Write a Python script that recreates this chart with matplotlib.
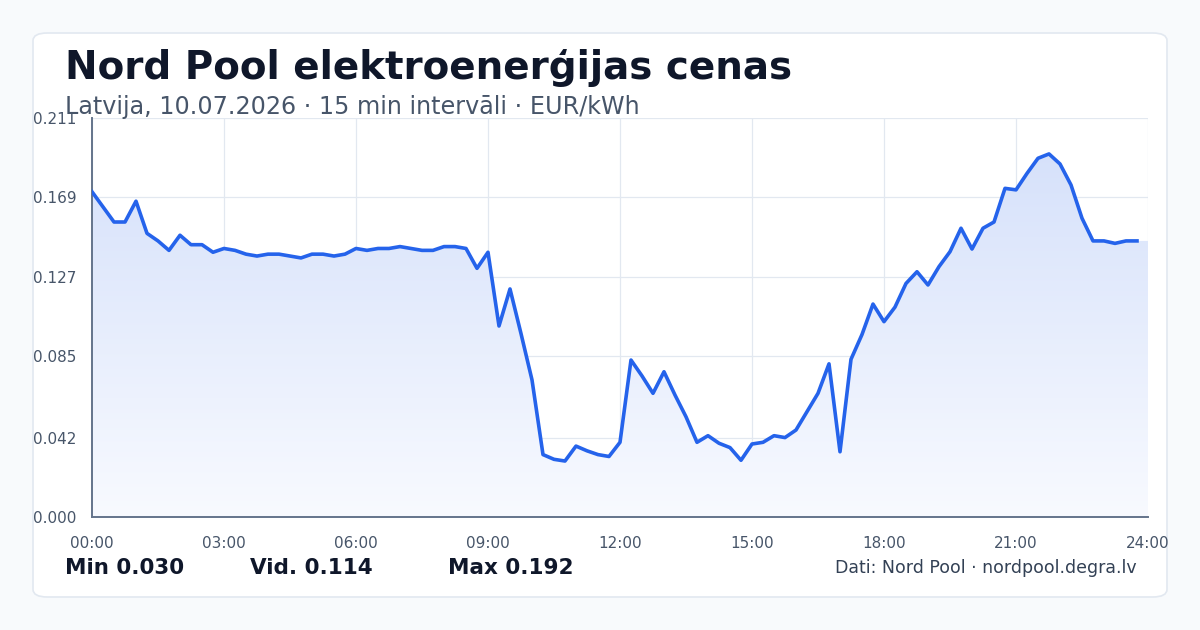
import matplotlib
matplotlib.use("Agg")
import matplotlib.pyplot as plt
import numpy as np
from matplotlib.patches import FancyBboxPatch, Polygon
from matplotlib.colors import LinearSegmentedColormap

prices = [0.172,0.164,0.156,0.156,0.167,0.150,0.146,0.141,0.149,0.144,0.144,0.140,
          0.142,0.141,0.139,0.138,0.139,0.139,0.138,0.137,0.139,0.139,0.138,0.139,
          0.142,0.141,0.142,0.142,0.143,0.142,0.141,0.141,0.143,0.143,0.142,0.1315,
          0.140,0.101,0.1206,0.097,0.0725,0.033,0.0305,0.0296,0.0375,0.035,0.033,0.032,
          0.0395,0.083,0.0746,0.0654,0.0768,0.0645,0.053,0.0395,0.043,0.039,0.0367,0.030,
          0.0386,0.0395,0.043,0.042,0.046,0.0557,0.0654,0.081,0.0345,0.0834,0.0965,0.1126,
          0.1033,0.111,0.1235,0.1297,0.1227,0.1324,0.1403,0.1527,0.1417,0.1527,0.156,0.1738,
          0.173,0.1817,0.1897,0.192,0.1867,0.1756,0.158,0.146,0.146,0.1447,0.146,0.146]
y_ticks = [0.000, 0.042, 0.085, 0.127, 0.169, 0.211]
x_tick_labels = ["00:00","03:00","06:00","09:00","12:00","15:00","18:00","21:00","24:00"]
title = "Nord Pool elektroenerģijas cenas"
subtitle = "Latvija, 10.07.2026 · 15 min intervāli · EUR/kWh"
stats = ["Min 0.030", "Vid. 0.114", "Max 0.192"]
source = "Dati: Nord Pool · nordpool.degra.lv"

fig = plt.figure(figsize=(12, 6.3), dpi=100)
fig.patch.set_facecolor("#f8fafc")
card = FancyBboxPatch((33/1200, 33/630), 1134/1200, 564/630,
                      boxstyle="round,pad=0,rounding_size=0.012",
                      transform=fig.transFigure, facecolor="white",
                      edgecolor="#e2e8f0", linewidth=1.2, zorder=-10)
fig.add_artist(card)

ax = fig.add_axes([92/1200, 1-517/630, 1056/1200, 399/630])
ax.set_facecolor("none")
x = np.arange(len(prices)) * 0.25
y = np.array(prices)
ax.set_xlim(0, 24)
ax.set_ylim(0, 0.211)

xf = np.concatenate([x, [24]])
yf = np.concatenate([y, [y[-1]]])
poly = np.column_stack([np.concatenate([xf, [24, 0]]), np.concatenate([yf, [0, 0]])])
patch = Polygon(poly, closed=True, facecolor="none", edgecolor="none")
ax.add_patch(patch)
grad = np.linspace(0, 1, 256).reshape(-1, 1)
cmap = LinearSegmentedColormap.from_list("g", [(0, "#f8faff"), (1, "#d3dffa")])
im = ax.imshow(grad, extent=[0, 24, 0, 0.211], origin="lower", aspect="auto",
               cmap=cmap, zorder=1)
im.set_clip_path(patch)

ax.plot(x, y, color="#2563eb", linewidth=2.6, zorder=3, solid_joinstyle="round")

ax.set_yticks(y_ticks)
ax.set_yticklabels([f"{v:.3f}" for v in y_ticks])
ax.set_xticks(np.arange(0, 25, 3))
ax.set_xticklabels(x_tick_labels)
ax.grid(True, color="#e2e8f0", linewidth=0.9, zorder=0)
ax.set_axisbelow(True)
for s in ["top", "right"]:
    ax.spines[s].set_visible(False)
for s in ["left", "bottom"]:
    ax.spines[s].set_color("#64748b")
    ax.spines[s].set_linewidth(1.4)
ax.tick_params(axis="both", length=0, labelsize=11, colors="#475569")
ax.tick_params(axis="x", pad=14)
ax.tick_params(axis="y", pad=11)

fig.text(65/1200, 1-68/630, title, fontsize=28, fontweight="bold",
         color="#0f172a", va="center", ha="left")
fig.text(65/1200, 1-107/630, subtitle, fontsize=17.2, color="#475569",
         va="center", ha="left")
for sx, st in zip([65, 250, 448], stats):
    fig.text(sx/1200, 1-568/630, st, fontsize=15.5, fontweight="bold",
             color="#0f172a", va="center", ha="left")
fig.text(1137/1200, 1-568/630, source, fontsize=12.5, color="#334155",
         va="center", ha="right")

fig.savefig("out.png", dpi=100, facecolor=fig.get_facecolor())
